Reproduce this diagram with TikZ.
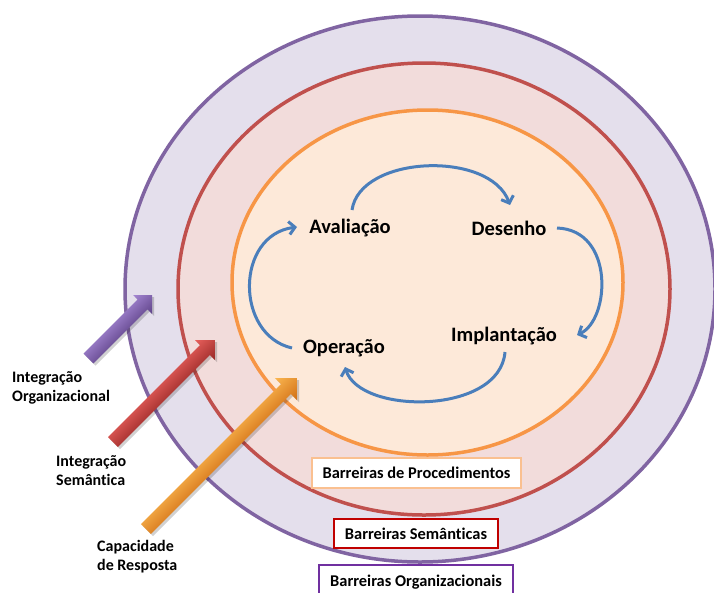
\documentclass[tikz,border=0pt]{standalone}
\usepackage{fontspec}
\setmainfont[Ligatures=NoCommon]{Carlito}
\usetikzlibrary{arrows.meta}
\definecolor{purS}{HTML}{8064A2}
\definecolor{purF}{HTML}{E4DFEC}
\definecolor{redS}{HTML}{C0504D}
\definecolor{redF}{HTML}{F2DCDB}
\definecolor{orgS}{HTML}{F79646}
\definecolor{orgF}{HTML}{FDE9D9}
\definecolor{cyc}{HTML}{4A7EBB}
\definecolor{procB}{HTML}{FAC090}
\definecolor{semB}{HTML}{C00000}
\definecolor{orgB}{HTML}{7030A0}
\definecolor{paL}{HTML}{A486D2}
\definecolor{paM}{HTML}{8462BC}
\definecolor{paD}{HTML}{5E4288}
\definecolor{raL}{HTML}{E8605C}
\definecolor{raM}{HTML}{D63C39}
\definecolor{raD}{HTML}{982826}
\definecolor{oaL}{HTML}{FBB650}
\definecolor{oaM}{HTML}{F7962A}
\definecolor{oaD}{HTML}{D06E14}
\newcommand\blockarr[7]{%
  \begin{scope}[transform canvas={shift={(#1,#2)},rotate=45}]
    \fill[black,opacity=0.18] (0,-4) -- ({#3-#4},-4) -- ({#3-#4},{-#4+3}) -- (#3,3) -- ({#3-#4},{#4+3}) -- ({#3-#4},10) -- (0,10) -- cycle;
    \shade[top color=#5, middle color=#6, bottom color=#7] (0,-7) -- ({#3-#4},-7) -- ({#3-#4},-#4) -- (#3,0) -- ({#3-#4},#4) -- ({#3-#4},7) -- (0,7) -- cycle;
  \end{scope}}
\begin{document}
\begin{tikzpicture}[x=1pt,y=-1pt,
  ring/.style={line width=3.5pt},
  cyctext/.style={font=\fontsize{20.5}{24}\selectfont\bfseries, inner sep=0pt},
  sidetext/.style={font=\fontsize{16}{19}\selectfont\bfseries, inner sep=0pt, align=left, anchor=north west},
  barrier/.style={draw, fill=white, line width=2pt, inner sep=0pt, font=\fontsize{16.4}{19}\selectfont\bfseries},
  cycarrow/.style={cyc, line width=3pt, -{Straight Barb[length=6pt,width=13pt]}}]
\clip (0,0) rectangle (714,592);
\fill[white] (0,0) rectangle (714,592);
% rings
\draw[ring, draw=purS, fill=purF] (420,289) ellipse [x radius=295, y radius=273];
\draw[ring, draw=redS, fill=redF] (424,289) ellipse [x radius=246, y radius=226];
\draw[ring, draw=orgS, fill=orgF] (427.5,282.5) ellipse [x radius=195.5, y radius=172.5];
% cycle labels
\node[cyctext] (ava) at (350,228) {Avaliação};
\node[cyctext] (des) at (509,228) {Desenho};
\node[cyctext] (imp) at (504,336) {Implantação};
\node[cyctext] (ope) at (344,348) {Operação};
% cycle arrow end points
\coordinate (t1) at (352,210);
\coordinate (t2) at (510,205);
\coordinate (r1) at (557,228);
\coordinate (r2) at (577,335);
\coordinate (b1) at (505,352);
\coordinate (b2) at (345,367);
\coordinate (l1) at (292,348);
\coordinate (l2) at (297,227);
\draw[cycarrow] (t1) .. controls (360,155) and (490,150) .. (t2);
\draw[cycarrow] (r1) .. controls (615,230) and (610,320) .. (r2);
\draw[cycarrow] (b1) .. controls (500,415) and (360,415) .. (b2);
\draw[cycarrow] (l1) .. controls (235,335) and (235,235) .. (l2);
% block arrows
\blockarr{88.5}{358.5}{89.8}{13.4}{paL}{paM}{paD}
\blockarr{113}{442}{144.2}{14.1}{raL}{raM}{raD}
\blockarr{146}{529}{213.5}{15.6}{oaL}{oaM}{oaD}
% side labels
\node[sidetext] (lo) at (12,371) {Integração\\Organizacional};
\node[sidetext] (ls) at (56,455) {Integração\\Semântica};
\node[sidetext] (lc) at (97,540) {Capacidade\\de Resposta};
% barrier boxes
\node[barrier, draw=procB, minimum width=209pt, minimum height=30pt] (bp) at (416.5,473) {Barreiras de Procedimentos};
\node[barrier, draw=semB, minimum width=164pt, minimum height=29pt] (bs) at (416,533.5) {Barreiras Semânticas};
\node[barrier, draw=orgB, minimum width=194pt, minimum height=34pt] (bo) at (416,582) {Barreiras Organizacionais};
\end{tikzpicture}
\end{document}
